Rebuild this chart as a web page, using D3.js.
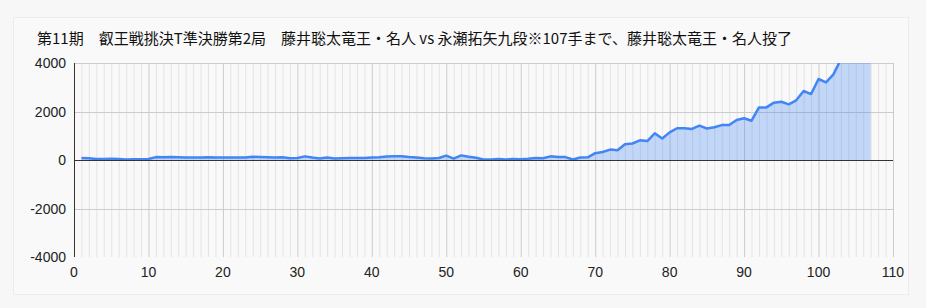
<!DOCTYPE html>
<html>
<head>
<meta charset="utf-8">
<script src="https://cdn.jsdelivr.net/npm/d3@7"></script>
<style>
  html, body { margin: 0; padding: 0; background: #f7f7f7; }
  #chart { width: 926px; height: 308px; }
</style>
</head>
<body>
<div id="chart"></div>
<script>
const TITLE = "第11期\u3000叡王戦挑決T準決勝第2局\u3000藤井聡太竜王・名人 vs 永瀬拓矢九段※107手まで、藤井聡太竜王・名人投了";

// 手数と評価値（先手側）
const moves = d3.range(1, 108);
const scores = [
  80, 70, 40, 45, 50, 45, 20, 30, 35, 40,
  120, 115, 120, 115, 105, 100, 100, 115, 105, 100,
  105, 105, 100, 130, 125, 115, 100, 110, 70, 80,
  150, 100, 60, 100, 60, 70, 80, 80, 80, 100,
  110, 140, 150, 150, 120, 100, 70, 60, 80, 180,
  60, 190, 130, 90, 20, 20, 40, 20, 40, 30,
  50, 80, 70, 150, 120, 120, 20, 100, 110, 280,
  330, 430, 400, 650, 680, 810, 780, 1100, 890, 1140,
  1310, 1310, 1280, 1415, 1300, 1350, 1440, 1440, 1650, 1720,
  1620, 2170, 2170, 2365, 2400, 2295, 2460, 2845, 2720, 3340,
  3200, 3530, 4150, 4600, 5000, 5300, 5800
];
const xTicks = d3.range(0, 111, 10);
const yTicks = [-4000, -2000, 0, 2000, 4000];

const width = 926, height = 308;
const margin = { left: 74, right: 33, top: 63, bottom: 51 };

const svg = d3.select("#chart").append("svg")
  .attr("width", width).attr("height", height)
  .style("font-family", "Arial, 'Liberation Sans', sans-serif");

// panel
svg.append("rect")
  .attr("x", 13.5).attr("y", 17.5).attr("width", 895).attr("height", 277)
  .attr("fill", "#f9f9f9").attr("stroke", "#ececec");

svg.append("text")
  .attr("x", 37).attr("y", 44)
  .attr("font-family", "'Noto Sans CJK JP', sans-serif")
  .attr("font-size", 15)
  .attr("fill", "#111")
  .text(TITLE);

const x = d3.scaleLinear().domain([0, 110]).range([margin.left, width - margin.right]);
const y = d3.scaleLinear().domain([-4000, 4000]).range([height - margin.bottom, margin.top]);

const grid = svg.append("g");
// minor vertical
grid.selectAll("line.minor")
  .data(d3.range(1, 110).filter(d => d % 10 !== 0))
  .join("line")
  .attr("x1", d => x(d) + 0.5).attr("x2", d => x(d) + 0.5)
  .attr("y1", y(4000)).attr("y2", y(-4000))
  .attr("stroke", "#e4e4e4");
// major vertical
grid.selectAll("line.major")
  .data(xTicks.slice(1))
  .join("line")
  .attr("x1", d => x(d) + 0.5).attr("x2", d => x(d) + 0.5)
  .attr("y1", y(4000)).attr("y2", y(-4000))
  .attr("stroke", "#cccccc");
// horizontal
grid.selectAll("line.h")
  .data(yTicks.filter(d => d !== 0 && d !== -4000))
  .join("line")
  .attr("x1", x(0)).attr("x2", x(110))
  .attr("y1", d => Math.round(y(d)) + 0.5).attr("y2", d => Math.round(y(d)) + 0.5)
  .attr("stroke", "#cccccc");

svg.append("clipPath").attr("id", "plot")
  .append("rect")
  .attr("x", x(0)).attr("y", y(4000))
  .attr("width", x(110) - x(0)).attr("height", y(-4000) - y(4000));

const data = moves.map((m, i) => ({ m: m, v: scores[i] }));

const plot = svg.append("g").attr("clip-path", "url(#plot)");

plot.append("path")
  .datum(data)
  .attr("fill", "#4285f4")
  .attr("fill-opacity", 0.3)
  .attr("d", d3.area().x(d => x(d.m)).y0(y(0)).y1(d => y(d.v)));

// zero line
svg.append("line")
  .attr("x1", x(0)).attr("x2", x(110))
  .attr("y1", Math.round(y(0)) + 0.5).attr("y2", Math.round(y(0)) + 0.5)
  .attr("stroke", "#333").attr("stroke-width", 1);

plot.append("path")
  .datum(data)
  .attr("fill", "none")
  .attr("stroke", "#4285f4")
  .attr("stroke-width", 2.5)
  .attr("stroke-linejoin", "round")
  .attr("d", d3.line().x(d => x(d.m)).y(d => y(d.v)));

// left axis line
svg.append("line")
  .attr("x1", x(0) + 0.5).attr("x2", x(0) + 0.5)
  .attr("y1", y(4000)).attr("y2", y(-4000))
  .attr("stroke", "#333");

svg.append("g").selectAll("text")
  .data(yTicks)
  .join("text")
  .attr("x", x(0) - 8)
  .attr("y", d => y(d) + 5)
  .attr("text-anchor", "end")
  .attr("font-size", 14)
  .attr("fill", "#222")
  .text(d => d);

svg.append("g").selectAll("text")
  .data(xTicks)
  .join("text")
  .attr("x", d => x(d))
  .attr("y", y(-4000) + 20)
  .attr("text-anchor", "middle")
  .attr("font-size", 14)
  .attr("fill", "#222")
  .text(d => d);
</script>
</body>
</html>
